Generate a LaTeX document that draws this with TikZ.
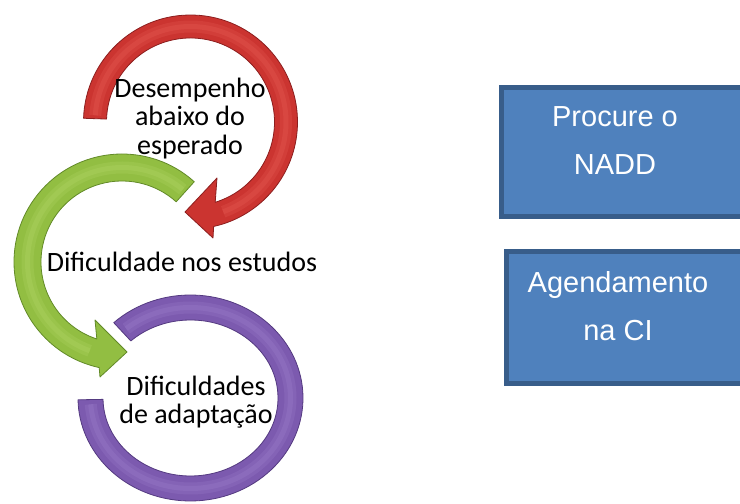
\documentclass[tikz,border=0pt]{standalone}
\usepackage{fontspec}
\setmainfont{Carlito}
\newfontfamily\boxfont{Liberation Sans}
\definecolor{redF}{RGB}{203,52,48}
\definecolor{redH}{RGB}{232,92,86}
\definecolor{redE}{RGB}{140,30,30}
\definecolor{greenF}{RGB}{146,190,66}
\definecolor{greenH}{RGB}{178,214,102}
\definecolor{greenE}{RGB}{98,138,40}
\definecolor{purpleF}{RGB}{124,90,175}
\definecolor{purpleH}{RGB}{158,128,205}
\definecolor{purpleE}{RGB}{84,58,128}
\definecolor{boxF}{RGB}{79,129,189}
\definecolor{boxE}{RGB}{56,93,138}
\tikzset{
  redarrow/.style={fill=redF, draw=redE, line width=0.8pt, line join=round},
  greenarrow/.style={fill=greenF, draw=greenE, line width=0.8pt, line join=round},
  purplearrow/.style={fill=purpleF, draw=purpleE, line width=0.8pt, line join=round},
  hiliteA/.style={line width=12pt, opacity=0.25},
  hiliteB/.style={line width=5pt, opacity=0.3},
  bluebox/.style={fill=boxF, draw=boxE, line width=5pt, inner sep=0pt, anchor=north west},
  boxtext/.style={font=\boxfont\fontsize{29}{48}\selectfont, text=white, align=center, inner sep=0pt},
  arrowtext/.style={font=\fontsize{28}{28.5}\selectfont, text=black, align=center, inner sep=0pt}
}
\begin{document}
\begin{tikzpicture}[x=1pt,y=1pt]
\useasboundingbox (0,0) rectangle (740,504);
\begin{scope}
\clip (0,0) rectangle (740,504);
% purple ring
\begin{scope}[shift={(190.5,106)}]
\path[purplearrow] ({112.5*cos(133)},{103*sin(133)}) arc[start angle=133,end angle=-179,x radius=112.5,y radius=103]
  -- ({87.5*cos(-179)},{78*sin(-179)}) arc[start angle=-179,end angle=133,x radius=87.5,y radius=78] -- cycle;
\draw[hiliteA, purpleH] ({100*cos(130)},{90.5*sin(130)}) arc[start angle=130,end angle=-176,x radius=100,y radius=90.5];
\draw[hiliteB, purpleH] ({100*cos(130)},{90.5*sin(130)}) arc[start angle=130,end angle=-176,x radius=100,y radius=90.5];
\end{scope}
% red arrow
\begin{scope}[shift={(190.5,382)}]
\path[redarrow] (178:107) arc[start angle=178,end angle=-77.5,radius=107]
  -- (22.5,-116) -- (-5.5,-90) -- (26.5,-56) -- (-72.9:84)
  arc[start angle=-72.9,end angle=178,radius=84] -- cycle;
\draw[hiliteA, redH] (176:95.5) arc[start angle=176,end angle=-70,radius=95.5];
\draw[hiliteB, redH] (176:95.5) arc[start angle=176,end angle=-70,radius=95.5];
\end{scope}
% green arrow
\begin{scope}[shift={(122,242)}]
\path[greenarrow] (48:108) arc[start angle=48,end angle=257.8,radius=108]
  -- (-22,-115) -- (5,-90) -- (-27,-58) -- (251.9:81)
  arc[start angle=251.9,end angle=48,radius=81] -- cycle;
\draw[hiliteA, greenH] (50:94.5) arc[start angle=50,end angle=250,radius=94.5];
\draw[hiliteB, greenH] (50:94.5) arc[start angle=50,end angle=250,radius=94.5];
\end{scope}
% boxes
\node[bluebox, minimum width=261.5pt, minimum height=129pt] (b1) at (498.5,418.5) {};
\node[bluebox, minimum width=256.5pt, minimum height=132pt] (b2) at (503.5,254.5) {};
\end{scope}
% texts
\node[boxtext] (t1) at (615,363) {Procure o\\NADD};
\node[boxtext] (t2) at (618,198) {Agendamento\\na CI};
\node[arrowtext] (l1) at (190,385.6) {Desempenho\\abaixo do\\esperado};
\node[arrowtext, anchor=base] (l2) at (182,232) {Dificuldade nos estudos};
\node[arrowtext] (l3) at (196,102) {Dificuldades\\de adaptação};
\end{tikzpicture}
\end{document}
